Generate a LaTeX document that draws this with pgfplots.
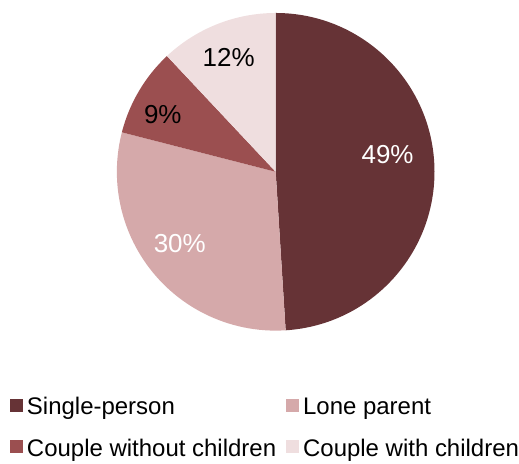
\documentclass[border=0pt]{standalone}
\usepackage{pgfplots}
\pgfplotsset{compat=1.18}
\usepackage{fontspec}
\setmainfont{Liberation Sans}
\definecolor{c1}{HTML}{663336}
\definecolor{c2}{HTML}{D5A9AA}
\definecolor{c3}{HTML}{9B4F50}
\definecolor{c4}{HTML}{EFDEDF}
\begin{document}
\begin{tikzpicture}
\begin{axis}[
  hide axis, x=1pt, y=1pt, xmin=0, xmax=519, ymin=0, ymax=464,
  scale only axis, clip=false,
  legend columns=2,
  legend cell align=left,
  legend image code/.code={\fill[#1, draw=none] (0pt,-3pt) rectangle (13pt,10pt);},
  legend style={draw=none, fill=none, inner sep=0pt, outer sep=0pt,
    at={(axis cs:10,67)}, anchor=north west,
    font=\fontsize{24}{28}\selectfont,
    nodes={inner sep=0pt, text height=18pt, text depth=6pt},
    row sep=18pt,
    /tikz/every odd column/.append style={column sep=4pt},
    /tikz/every even column/.append style={column sep=10pt}},
]
\path (axis cs:0,0) rectangle (axis cs:519,464);
\pgfplotsextra{
  \gdef\startang{90}
  \foreach \v/\c in {49/c1,30/c2,9/c3,12/c4}{
    \pgfmathsetmacro\endang{\startang-3.6*\v}
    \fill[\c] (axis cs:276,292) -- ++(\startang:159pt)
      arc[start angle=\startang, end angle=\endang, radius=159pt] -- cycle;
    \xdef\startang{\endang}
  }
}
\addlegendimage{fill=c1, draw=none}\addlegendentry{Single-person}
\addlegendimage{fill=c2, draw=none}\addlegendentry{Lone parent}
\addlegendimage{fill=c3, draw=none}\addlegendentry{Couple without children}
\addlegendimage{fill=c4, draw=none}\addlegendentry{Couple with children}
\node[anchor=base, text=white, font=\fontsize{26}{30}\selectfont] at (axis cs:388,300) {49\%};
\node[anchor=base, text=white, font=\fontsize{26}{30}\selectfont] at (axis cs:180,211) {30\%};
\node[anchor=base, text=black, font=\fontsize{26}{30}\selectfont] at (axis cs:163,340) {9\%};
\node[anchor=base, text=black, font=\fontsize{26}{30}\selectfont] at (axis cs:229,397) {12\%};
\end{axis}
\end{tikzpicture}
\end{document}
